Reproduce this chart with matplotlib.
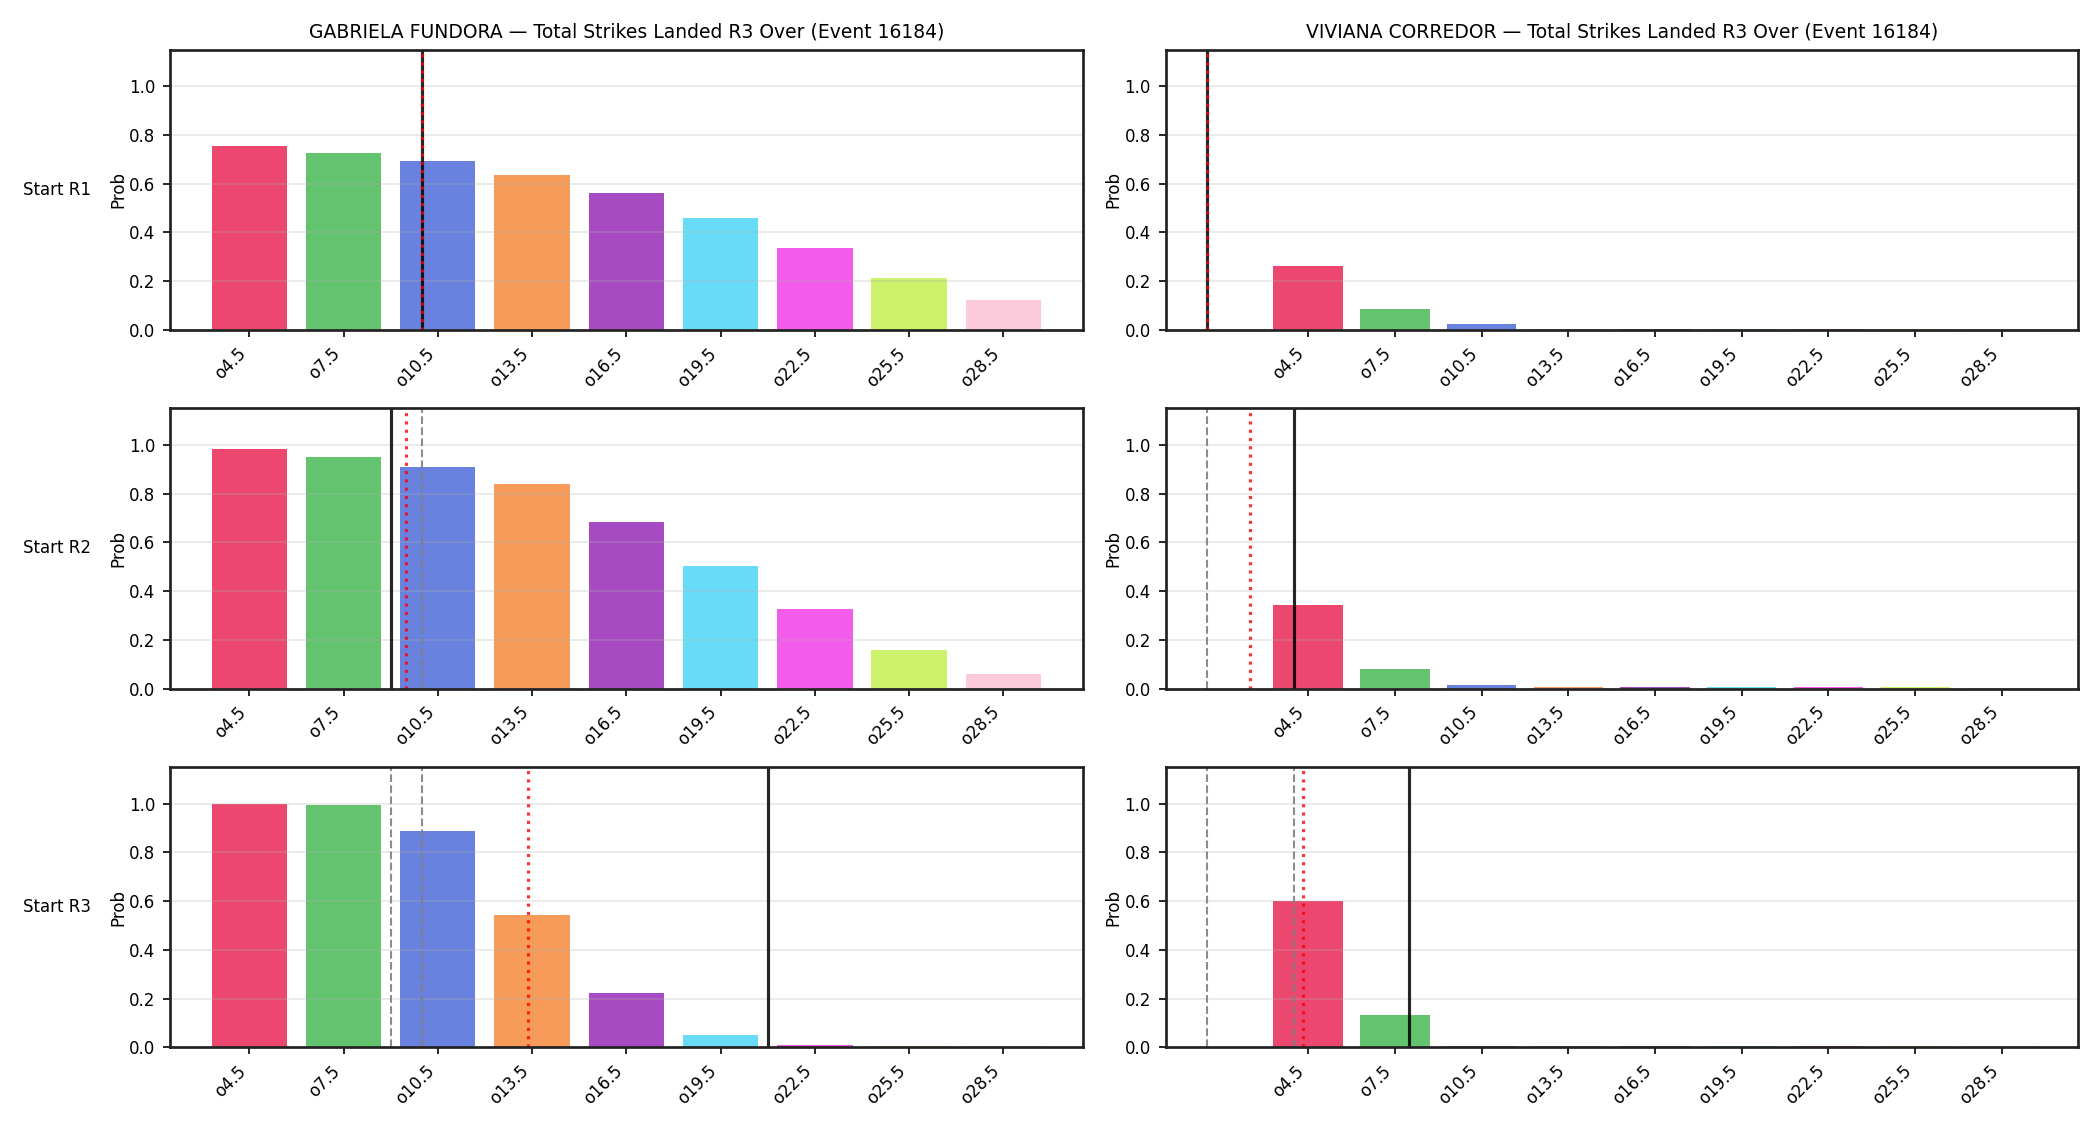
import numpy as np
import matplotlib
matplotlib.use("Agg")
import matplotlib.pyplot as plt

# --- data ---
LINES = [4.5, 7.5, 10.5, 13.5, 16.5, 19.5, 22.5, 25.5, 28.5]
TICK_LABELS = [f"o{v}" for v in LINES]
ROW_LABELS = ["Start R1", "Start R2", "Start R3"]
FIGHTERS = ["GABRIELA FUNDORA", "VIVIANA CORREDOR"]
MARKET = "Total Strikes Landed R3 Over (Event 16184)"

# over probabilities per start round
fundora_r1 = [0.755, 0.726, 0.693, 0.636, 0.562, 0.459, 0.336, 0.212, 0.122]
fundora_r2 = [0.982, 0.952, 0.911, 0.838, 0.682, 0.502, 0.326, 0.158, 0.060]
fundora_r3 = [0.997, 0.996, 0.886, 0.542, 0.223, 0.052, 0.008, 0.007, 0.006]
corredor_r1 = [0.262, 0.085, 0.023, 0.005, 0.005, 0.004, 0.005, 0.004, 0.002]
corredor_r2 = [0.342, 0.080, 0.016, 0.005, 0.006, 0.005, 0.006, 0.005, 0.004]
corredor_r3 = [0.599, 0.131, 0.007, 0.007, 0.007, 0.006, 0.007, 0.007, 0.006]

# reference markers: current (solid), projected (dotted)
fundora_current = [10, 9, 21]
fundora_proj = [10, 9.5, 13.36]
corredor_current = [1, 4, 8]
corredor_proj = [1, 2.5, 4.33]

COLORS = ["#e6194b", "#3cb44b", "#4363d8", "#f58231", "#911eb4",
          "#42d4f4", "#f032e6", "#bfef45", "#fabed4"]


def draw_panel(ax, probs, current, proj, previous):
    ax.bar(LINES, probs, width=2.4, color=COLORS, alpha=0.8)
    for p in previous:
        ax.axvline(p, color="gray", ls="--", lw=1.0, alpha=0.9)
    ax.axvline(current, color="k", lw=1.5, alpha=0.85)
    ax.axvline(proj, color="red", ls=":", lw=1.5, alpha=0.8)
    ax.set_ylim(0, 1.15)
    ax.set_xticks(LINES)
    ax.set_xticklabels(TICK_LABELS, rotation=45, ha="right", fontsize=8)
    ax.tick_params(axis="y", labelsize=8)
    ax.set_ylabel("Prob", fontsize=8, labelpad=1)
    ax.grid(axis="y", alpha=0.3)
    for s in ax.spines.values():
        s.set_linewidth(1.3)
        s.set_color("#222222")


def main():
    fig, axes = plt.subplots(3, 2, figsize=(14, 7.5), dpi=150)
    fig.subplots_adjust(left=0.081, right=0.9895, top=0.956, bottom=0.069,
                        wspace=0.091, hspace=0.28)

    data = [
        (fundora_r1, fundora_r2, fundora_r3, fundora_current, fundora_proj),
        (corredor_r1, corredor_r2, corredor_r3, corredor_current, corredor_proj),
    ]
    for col, (r1, r2, r3, cur, proj) in enumerate(data):
        rows = [r1, r2, r3]
        for row in range(3):
            ax = axes[row, col]
            draw_panel(ax, rows[row], cur[row], proj[row], cur[:row])
            if row == 0:
                ax.set_title(f"{FIGHTERS[col]} \u2014 {MARKET}", fontsize=9)
            if col == 0:
                ax.annotate(ROW_LABELS[row], xy=(-0.087, 0.5),
                            xycoords="axes fraction", ha="right",
                            va="center", fontsize=8)

    fig.savefig("out.png", dpi=150)
    plt.close()


if __name__ == "__main__":
    main()
